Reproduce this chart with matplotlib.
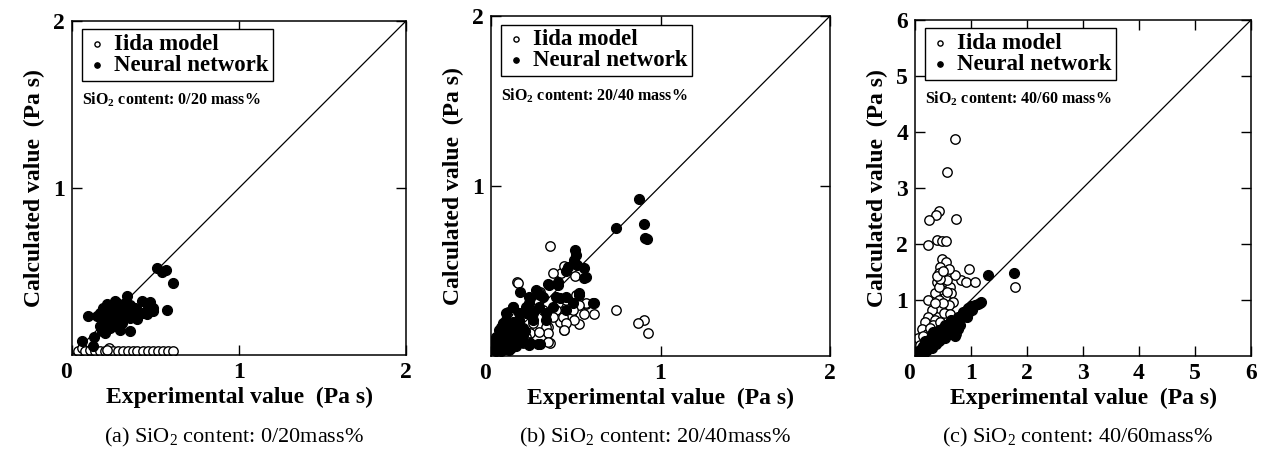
import matplotlib
matplotlib.use("Agg")
import matplotlib.pyplot as plt
from matplotlib.transforms import ScaledTranslation

plt.rcParams['font.family'] = ['Liberation Serif', 'DejaVu Serif']
plt.rcParams['mathtext.fontset'] = 'custom'
plt.rcParams['mathtext.rm'] = 'Liberation Serif'
plt.rcParams['mathtext.bf'] = 'Liberation Serif:bold'
plt.rcParams['mathtext.it'] = 'Liberation Serif:italic'

# ---------------- data ----------------
# Panel (a) SiO2 0/20 mass%
a_iida_x = [0.038, 0.058, 0.078, 0.108, 0.138, 0.168, 0.198, 0.224, 0.248, 0.278, 0.307,
            0.337, 0.363, 0.387, 0.427, 0.457, 0.487, 0.517, 0.547, 0.577, 0.607, 0.21]
a_iida_y = [0.024, 0.040, 0.024, 0.030, 0.024, 0.024, 0.024, 0.040, 0.024, 0.024, 0.024,
            0.024, 0.024, 0.024, 0.024, 0.024, 0.024, 0.024, 0.024, 0.024, 0.024, 0.030]
a_nn_x = [0.507, 0.537, 0.563, 0.603, 0.327, 0.417, 0.467, 0.457, 0.487, 0.567, 0.427, 0.377,
          0.317, 0.257, 0.208, 0.188, 0.228, 0.268, 0.168, 0.148, 0.098, 0.188, 0.228, 0.257,
          0.307, 0.347, 0.387, 0.297, 0.208, 0.168, 0.178, 0.228, 0.268, 0.347, 0.058, 0.128,
          0.487, 0.447, 0.24, 0.26, 0.22, 0.25, 0.28, 0.30, 0.20, 0.27, 0.33, 0.24, 0.31, 0.35,
          0.37, 0.39, 0.20, 0.29, 0.13]
a_nn_y = [0.519, 0.499, 0.507, 0.433, 0.353, 0.323, 0.319, 0.293, 0.283, 0.267, 0.253, 0.283,
          0.313, 0.323, 0.303, 0.283, 0.273, 0.273, 0.253, 0.234, 0.234, 0.223, 0.234, 0.223,
          0.243, 0.223, 0.214, 0.194, 0.194, 0.174, 0.144, 0.164, 0.174, 0.144, 0.084, 0.054,
          0.263, 0.243, 0.25, 0.20, 0.21, 0.29, 0.22, 0.27, 0.26, 0.31, 0.26, 0.18, 0.30, 0.30,
          0.25, 0.27, 0.13, 0.15, 0.11]

# Panel (b) SiO2 20/40 mass%
b_iida_x = [0.349, 0.413, 0.428, 0.493, 0.156, 0.290, 0.740, 0.905, 0.865, 0.925, 0.606, 0.546,
            0.517, 0.428, 0.339, 0.349, 0.562, 0.474, 0.408, 0.231, 0.093, 0.364, 0.157, 0.098,
            0.285, 0.393, 0.501, 0.560, 0.517, 0.482, 0.383, 0.423, 0.492, 0.442, 0.432, 0.324,
            0.334, 0.285, 0.246, 0.206, 0.334, 0.226, 0.187, 0.364, 0.305, 0.265, 0.216, 0.442,
            0.089, 0.059, 0.030]
b_iida_y = [0.649, 0.490, 0.529, 0.471, 0.437, 0.378, 0.271, 0.212, 0.192, 0.137, 0.247, 0.247,
            0.188, 0.153, 0.172, 0.075, 0.306, 0.241, 0.202, 0.133, 0.255, 0.486, 0.427, 0.261,
            0.369, 0.310, 0.359, 0.310, 0.300, 0.271, 0.271, 0.231, 0.212, 0.192, 0.153, 0.173,
            0.133, 0.143, 0.192, 0.114, 0.084, 0.084, 0.075, 0.231, 0.271, 0.310, 0.290, 0.330,
            0.114, 0.173, 0.094]
b_nn_x = [0.872, 0.740, 0.905, 0.911, 0.921, 0.497, 0.503, 0.487, 0.457, 0.507, 0.546, 0.562,
          0.398, 0.339, 0.172, 0.517, 0.606, 0.408, 0.290, 0.231, 0.132, 0.231, 0.290,
          0.442, 0.344, 0.393, 0.442, 0.521, 0.551, 0.600, 0.226, 0.305, 0.128, 0.206, 0.285,
          0.364, 0.442, 0.089, 0.167, 0.246, 0.324, 0.049, 0.128, 0.187, 0.089, 0.147, 0.226,
          0.275, 0.049, 0.108, 0.010, 0.167, 0.246, 0.324, 0.089, 0.069, 0.128, 0.383, 0.265,
          0.226, 0.482, 0.206, 0.030, 0.049, 0.108, 0.147, 0.069, 0.187,
          0.03, 0.06, 0.08, 0.10, 0.12, 0.05, 0.07, 0.11, 0.14, 0.16, 0.09, 0.13, 0.04, 0.02,
          0.06, 0.15, 0.18, 0.20, 0.12]
b_nn_y = [0.922, 0.755, 0.775, 0.692, 0.686, 0.624, 0.594, 0.565, 0.522, 0.537, 0.516, 0.463,
          0.437, 0.421, 0.374, 0.372, 0.314, 0.339, 0.359, 0.339, 0.290, 0.075, 0.071,
          0.500, 0.418, 0.418, 0.349, 0.359, 0.457, 0.310, 0.349, 0.349, 0.290, 0.290, 0.290,
          0.290, 0.271, 0.212, 0.212, 0.212, 0.212, 0.153, 0.153, 0.163, 0.094, 0.094, 0.065,
          0.071, 0.045, 0.035, 0.075, 0.251, 0.251, 0.251, 0.251, 0.114, 0.114, 0.349, 0.388,
          0.310, 0.310, 0.251, 0.114, 0.084, 0.182, 0.182, 0.192, 0.124,
          0.03, 0.06, 0.04, 0.07, 0.05, 0.10, 0.13, 0.11, 0.14, 0.10, 0.17, 0.20, 0.06, 0.05,
          0.03, 0.06, 0.08, 0.15, 0.16]

# Panel (c) SiO2 40/60 mass%
c_iida_x = [0.71, 0.57, 0.42, 0.37, 0.25, 0.74, 0.24, 0.39, 0.48, 0.56, 0.48, 0.55, 0.97, 0.83,
            0.91, 1.07, 1.79, 1.16, 0.45, 0.42, 0.57, 0.71, 0.39, 0.54, 0.63, 0.48, 0.65, 0.36,
            0.54, 0.24, 0.42, 0.68, 0.60, 0.42, 0.30, 0.51, 0.24, 0.18, 0.36, 0.12, 0.06, 0.74,
            0.54, 0.21, 0.48, 0.60, 0.42, 0.57, 0.33, 0.45, 0.27, 0.15, 0.09, 0.62, 0.50, 0.35,
            0.58, 0.45, 0.40, 0.50]
c_iida_y = [3.87, 3.29, 2.59, 2.52, 2.42, 2.45, 1.98, 2.07, 2.06, 2.06, 1.74, 1.67, 1.55, 1.36,
            1.32, 1.32, 1.24, 0.95, 1.59, 1.48, 1.48, 1.44, 1.33, 1.30, 1.24, 1.18, 1.12, 1.12,
            1.06, 1.00, 1.00, 0.97, 0.91, 0.85, 0.82, 0.76, 0.70, 0.61, 0.64, 0.49, 0.32, 0.40,
            0.46, 0.40, 1.44, 1.56, 1.24, 1.15, 0.55, 0.60, 0.50, 0.35, 0.20, 0.75, 0.95, 0.95,
            1.36, 1.38, 1.42, 1.52]
c_nn_x = [1.77, 1.31, 1.18, 1.07, 0.95, 0.86, 0.77, 0.65, 0.54, 0.42, 0.30, 0.18, 0.09, 0.06,
          0.71, 0.83, 0.60, 0.48, 0.36, 0.24, 0.77, 0.65, 0.54, 0.42, 0.30, 0.18, 0.95, 1.01,
          0.60, 0.42, 0.21, 0.15, 0.33, 0.51, 0.71, 1.12, 0.12, 0.20, 0.27, 0.35, 0.45, 0.50,
          0.58, 0.68, 0.75, 0.88, 0.25, 0.38, 0.15, 0.10, 0.32, 0.46, 0.55, 0.63, 0.80, 0.92,
          1.00]
c_nn_y = [1.48, 1.44, 0.97, 0.91, 0.85, 0.79, 0.70, 0.64, 0.55, 0.46, 0.38, 0.26, 0.11, 0.02,
          0.58, 0.67, 0.46, 0.38, 0.29, 0.24, 0.49, 0.40, 0.32, 0.27, 0.14, 0.08, 0.76, 0.82,
          0.58, 0.38, 0.11, 0.17, 0.43, 0.46, 0.35, 0.93, 0.15, 0.20, 0.30, 0.35, 0.42, 0.50,
          0.52, 0.60, 0.62, 0.75, 0.15, 0.22, 0.05, 0.05, 0.20, 0.30, 0.40, 0.50, 0.55, 0.70,
          0.90]

panels = [
    dict(ix=a_iida_x, iy=a_iida_y, nx=a_nn_x, ny=a_nn_y, lim=2, ticks=[0, 1, 2],
         note='SiO$_\\mathbf{2}$ content: 0/20 mass%',
         caption='(a) SiO$_2$ content: 0/20mass%',
         rect=(72, 21, 406, 355)),
    dict(ix=b_iida_x, iy=b_iida_y, nx=b_nn_x, ny=b_nn_y, lim=2, ticks=[0, 1, 2],
         note='SiO$_\\mathbf{2}$ content: 20/40 mass%',
         caption='(b) SiO$_2$ content: 20/40mass%',
         rect=(491, 16, 830, 356)),
    dict(ix=c_iida_x, iy=c_iida_y, nx=c_nn_x, ny=c_nn_y, lim=6, ticks=[0, 1, 2, 3, 4, 5, 6],
         note='SiO$_\\mathbf{2}$ content: 40/60 mass%',
         caption='(c) SiO$_2$ content: 40/60mass%',
         rect=(915, 20, 1251, 356)),
]

W, H = 1265, 454
fig = plt.figure(figsize=(W / 100, H / 100), dpi=100)

for p in panels:
    l, t, r, b = p['rect']
    ax = fig.add_axes([l / W, 1 - b / H, (r - l) / W, (b - t) / H])
    lim = p['lim']
    ax.plot([0, lim], [0, lim], color='black', lw=0.9, zorder=1)
    ax.scatter(p['ix'], p['iy'], s=46, facecolor='white', edgecolor='black', linewidths=1.0,
               label='Iida model', zorder=2)
    ax.scatter(p['nx'], p['ny'], s=52, facecolor='black', edgecolor='black', linewidths=0.8,
               label='Neural network', zorder=3)
    ax.set_xlim(0, lim)
    ax.set_ylim(0, lim)
    ax.set_xticks(p['ticks'])
    ax.set_yticks(p['ticks'][1:])
    ax.tick_params(direction='in', top=True, right=True, length=7, width=1.0,
                   labelsize=17, pad=5)
    for lab in ax.get_xticklabels() + ax.get_yticklabels():
        lab.set_fontweight('bold')
    for s in ax.spines.values():
        s.set_linewidth(1.1)
    # shift the "0" label slightly left as in the reference
    t0 = ax.xaxis.get_major_ticks()[0]
    t0.label1.set_transform(t0.label1.get_transform()
                            + ScaledTranslation(-0.06, 0, fig.dpi_scale_trans))
    ax.set_xlabel('Experimental value  (Pa s)', fontsize=17, fontweight='bold', labelpad=3)
    ax.set_ylabel('Calculated value  (Pa s)', fontsize=17, fontweight='bold', labelpad=6)
    leg = ax.legend(loc='upper left', bbox_to_anchor=(0.03, 0.975), borderaxespad=0,
                    fancybox=False, framealpha=1, edgecolor='black', markerscale=0.55,
                    handletextpad=0.3, handlelength=0.9, labelspacing=0.0,
                    borderpad=0.2, prop={'family': 'Liberation Serif', 'weight': 'bold',
                                         'size': 16.5})
    leg.get_frame().set_linewidth(1.0)
    ax.text(0.03, 0.765, p['note'], transform=ax.transAxes, fontsize=11.5,
            fontweight='bold', ha='left', va='center')
    fig.text((l + r) / 2 / W - 0.004, 1 - 437 / H, p['caption'], fontsize=16,
             ha='center', va='center')

fig.savefig('out.png', dpi=100)
